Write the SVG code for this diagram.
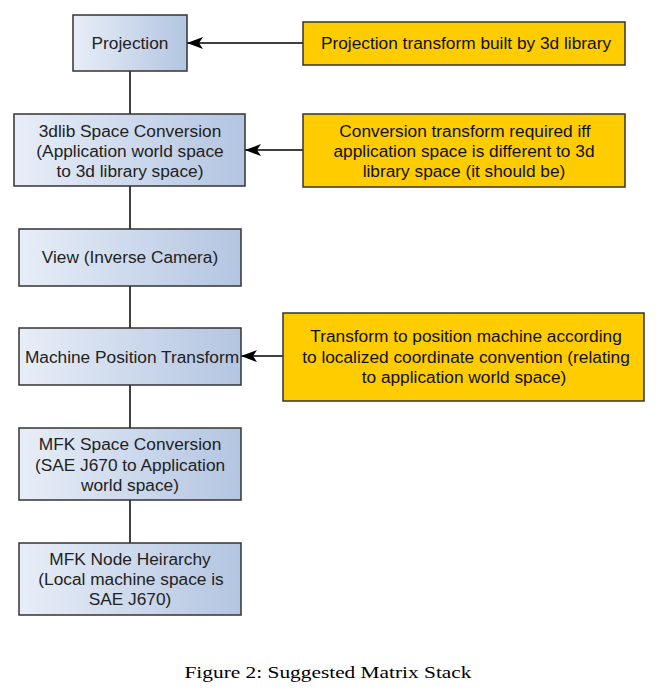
<svg xmlns="http://www.w3.org/2000/svg" width="660" height="698" viewBox="0 0 660 698">
<defs>
<linearGradient id="blue" x1="0" y1="0" x2="1" y2="0">
<stop offset="0" stop-color="#e8eef8"/>
<stop offset="1" stop-color="#b3c5e1"/>
</linearGradient>
<marker id="arr" viewBox="0 0 16 12" refX="16" refY="6" markerWidth="16" markerHeight="12" markerUnits="userSpaceOnUse" orient="auto">
<path d="M16,6 L0,0 L4,6 L0,12 Z" fill="#000"/>
</marker>
</defs>
<style>
.b{fill:url(#blue);stroke:#333;stroke-width:1.5}
.o{fill:#ffcc00;stroke:#333;stroke-width:1.5}
text{font-family:"Liberation Sans",Arial,sans-serif;font-size:17.3px;text-anchor:middle}
.bt{fill:#222}
.ot{fill:#111}
.c{fill:none;stroke:#000;stroke-width:1.5}
</style>
<rect width="660" height="698" fill="#fff"/>
<g id="connectors">
<line class="c" x1="130" y1="71" x2="130" y2="114"/>
<line class="c" x1="130" y1="186" x2="130" y2="229"/>
<line class="c" x1="130" y1="286" x2="130" y2="328"/>
<line class="c" x1="130" y1="385" x2="130" y2="428"/>
<line class="c" x1="130" y1="500" x2="130" y2="543"/>
<line class="c" x1="303" y1="43" x2="187" y2="43" marker-end="url(#arr)"/>
<line class="c" x1="303" y1="150" x2="245" y2="150" marker-end="url(#arr)"/>
<line class="c" x1="283" y1="356" x2="241" y2="356" marker-end="url(#arr)"/>
</g>
<g id="projection">
<rect class="b" x="73" y="15" width="114" height="56"/>
<text class="bt" x="130" y="49">Projection</text>
</g>
<g id="dlib">
<rect class="b" x="14" y="114" width="231" height="72"/>
<text class="bt" x="130" y="137">3dlib Space Conversion</text>
<text class="bt" x="130" y="157">(Application world space</text>
<text class="bt" x="130" y="177">to 3d library space)</text>
</g>
<g id="view">
<rect class="b" x="19" y="229" width="222" height="57"/>
<text class="bt" x="130" y="263">View (Inverse Camera)</text>
</g>
<g id="machine">
<rect class="b" x="19" y="328" width="222" height="57"/>
<text class="bt" x="132" y="363">Machine Position Transform</text>
</g>
<g id="mfkspace">
<rect class="b" x="19" y="428" width="222" height="72"/>
<text class="bt" x="130" y="450">MFK Space Conversion</text>
<text class="bt" x="130" y="471">(SAE J670 to Application</text>
<text class="bt" x="130" y="491">world space)</text>
</g>
<g id="mfknode">
<rect class="b" x="19" y="543" width="222" height="72"/>
<text class="bt" x="130" y="565">MFK Node Heirarchy</text>
<text class="bt" x="131" y="585">(Local machine space is</text>
<text class="bt" x="130" y="605">SAE J670)</text>
</g>
<g id="note1">
<rect class="o" x="303" y="22" width="322" height="43"/>
<text class="ot" x="466" y="49">Projection transform built by 3d library</text>
</g>
<g id="note2">
<rect class="o" x="303" y="114" width="322" height="73"/>
<text class="ot" x="465" y="137">Conversion transform required iff</text>
<text class="ot" x="464" y="157">application space is different to 3d</text>
<text class="ot" x="464" y="177">library space (it should be)</text>
</g>
<g id="note3">
<rect class="o" x="283" y="313" width="361" height="88"/>
<text class="ot" x="466" y="342">Transform to position machine according</text>
<text class="ot" x="466" y="363">to localized coordinate convention (relating</text>
<text class="ot" x="464" y="383">to application world space)</text>
</g>
<text x="328" y="678" style="font-family:'Liberation Serif','Times New Roman',serif;font-size:17.5px;fill:#000" textLength="287" lengthAdjust="spacingAndGlyphs">Figure 2: Suggested Matrix Stack</text>
</svg>
